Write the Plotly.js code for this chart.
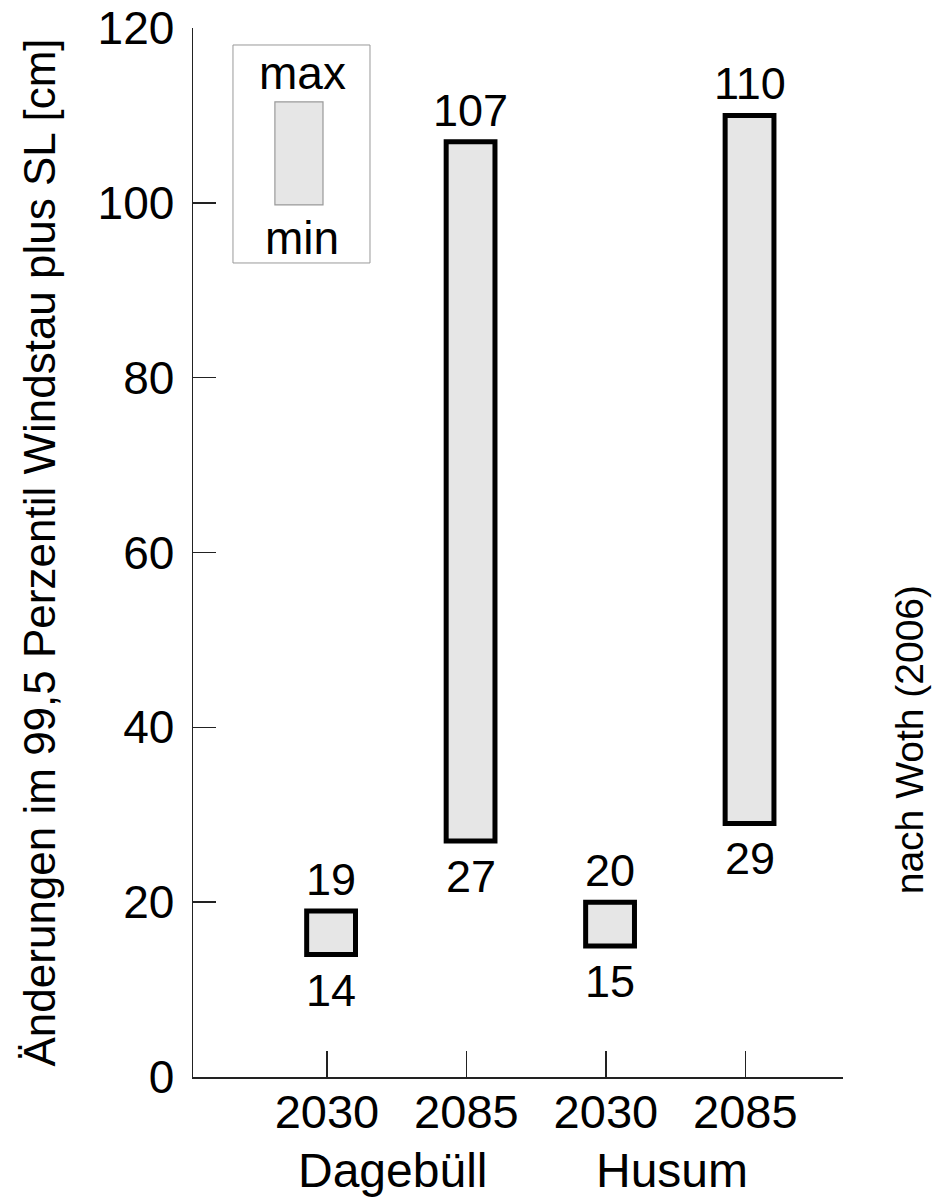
<!DOCTYPE html>
<html>
<head>
<meta charset="utf-8">
<script src="https://cdn.plot.ly/plotly-3.0.1.min.js"></script>
<style>
  html, body { margin: 0; padding: 0; background: #fff; }
  #chart { width: 933px; height: 1204px; }
</style>
</head>
<body>
<div id="chart"></div>
<script>
// ---- data ----
const years    = ["2030", "2085", "2030", "2085"];
const stations = ["Dagebüll", "Dagebüll", "Husum", "Husum"];
const minVals  = [14, 27, 15, 29];
const maxVals  = [19, 107, 20, 110];
const yTicks   = [0, 20, 40, 60, 80, 100, 120];

const FONT = "Liberation Sans, Arial, Helvetica, sans-serif";
const FS = 45;
const xs = years.map((_, i) => i);
const barShift = 0.03;

const trace = {
  type: "bar",
  x: xs,
  y: maxVals.map((v, i) => v - minVals[i]),
  base: minVals,
  width: 0.35,
  offset: -0.175 + barShift,
  marker: { color: "#e6e6e6", line: { color: "#000", width: 5 } },
  hoverinfo: "skip",
  showlegend: false
};

const annotations = [];
xs.forEach((x, i) => {
  annotations.push({
    x: x + barShift, y: maxVals[i], xref: "x", yref: "y",
    text: String(maxVals[i]), showarrow: false,
    yanchor: "bottom", yshift: 4,
    font: { family: FONT, size: FS, color: "#000" }
  });
  annotations.push({
    x: x + barShift, y: minVals[i], xref: "x", yref: "y",
    text: String(minVals[i]), showarrow: false,
    yanchor: "top", yshift: -8,
    font: { family: FONT, size: FS, color: "#000" }
  });
});

// station group labels
const uniqStations = [...new Set(stations)];
uniqStations.forEach(s => {
  const idx = xs.filter(i => stations[i] === s);
  const mid = idx.reduce((a, b) => a + b, 0) / idx.length;
  annotations.push({
    x: mid, y: -0.089, xref: "x", yref: "paper",
    text: s, showarrow: false, xanchor: "center", yanchor: "middle",
    xshift: -4,
    font: { family: FONT, size: 48, color: "#000" }
  });
});

// legend illustration
annotations.push({
  x: 0.1677, y: 0.957, xref: "paper", yref: "paper", text: "max",
  showarrow: false, xanchor: "center", yanchor: "middle",
  font: { family: FONT, size: 46, color: "#000" }
});
annotations.push({
  x: 0.1677, y: 0.80, xref: "paper", yref: "paper", text: "min",
  showarrow: false, xanchor: "center", yanchor: "middle",
  font: { family: FONT, size: 46, color: "#000" }
});
// source note
annotations.push({
  x: 1, y: 0.321, xref: "paper", yref: "paper", text: "nach Woth (2006)",
  showarrow: false, textangle: -90, xanchor: "center", yanchor: "middle",
  xshift: 66,
  font: { family: FONT, size: 39, color: "#000" }
});

const shapes = [
  { type: "rect", xref: "paper", yref: "paper", x0: 0.0615, x1: 0.2723, y0: 0.776, y1: 0.9838,
    line: { color: "#999", width: 1 }, fillcolor: "rgba(0,0,0,0)" },
  { type: "rect", xref: "paper", yref: "paper", x0: 0.126, x1: 0.2, y0: 0.8313, y1: 0.9295,
    line: { color: "#999", width: 1.2 }, fillcolor: "#e6e6e6" }
];

const layout = {
  width: 933, height: 1204,
  margin: { l: 193, r: 90, t: 28, b: 127 },
  paper_bgcolor: "#fff", plot_bgcolor: "#fff",
  font: { family: FONT, size: FS, color: "#000" },
  showlegend: false,
  xaxis: {
    range: [-0.96, 3.70],
    tickvals: xs, ticktext: years,
    ticks: "inside", ticklen: 26, tickwidth: 1.5, tickcolor: "#222",
    showline: true, linecolor: "#222", linewidth: 1.5,
    showgrid: false, zeroline: false, fixedrange: true,
    ticklabelstandoff: -7,
    tickfont: { family: FONT, size: 47, color: "#000" }
  },
  yaxis: {
    range: [0, 120],
    tickvals: yTicks,
    ticks: "inside", ticklen: 23, tickwidth: 1.5, tickcolor: "#222",
    showline: true, linecolor: "#222", linewidth: 1.5,
    showgrid: false, zeroline: false, fixedrange: true,
    ticklabelstandoff: 8,
    tickfont: { family: FONT, size: 46, color: "#000" },
    title: { text: "Änderungen im 99,5 Perzentil Windstau plus SL [cm]",
             font: { family: FONT, size: 44, color: "#000" }, standoff: 28 },
    automargin: false
  },
  annotations: annotations,
  shapes: shapes,
  bargap: 0
};

Plotly.newPlot("chart", [trace], layout, { displayModeBar: false, staticPlot: true });
</script>
</body>
</html>
